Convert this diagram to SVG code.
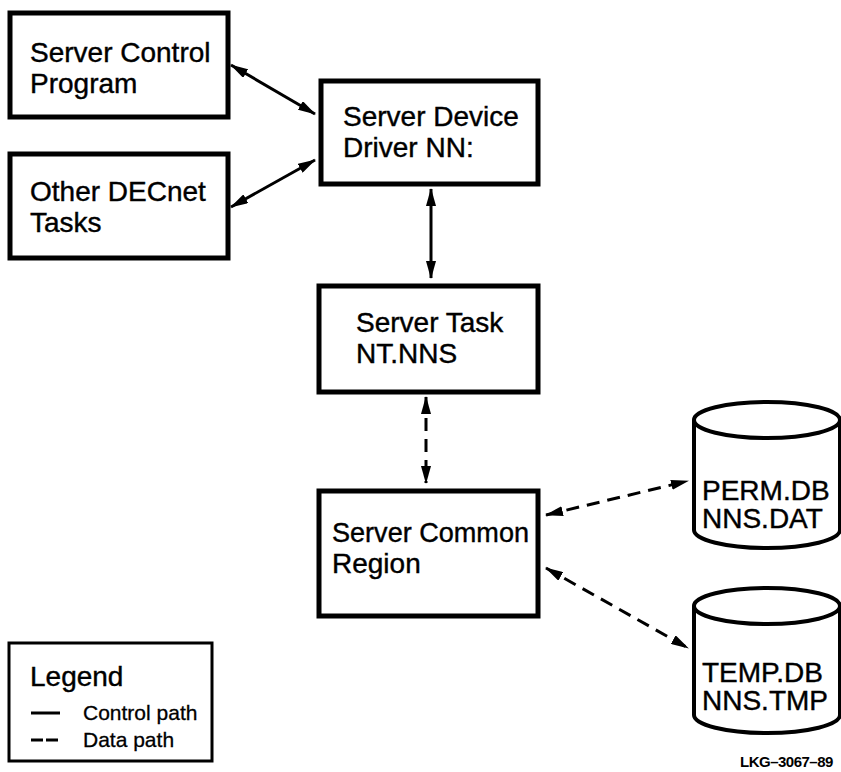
<svg xmlns="http://www.w3.org/2000/svg" width="841" height="772" viewBox="0 0 841 772">
<defs>
<marker id="ah" viewBox="0 0 18 10" refX="17" refY="5" markerWidth="18" markerHeight="10" markerUnits="userSpaceOnUse" orient="auto-start-reverse">
<path d="M0,0 L18,5 L0,10 z" fill="#000"/>
</marker>
</defs>
<style>
.box{fill:#fff;stroke:#000;stroke-width:5}
.cyl{fill:#fff;stroke:#000;stroke-width:4}
.t{font-family:"Liberation Sans",Arial,sans-serif;font-size:28px;fill:#000;stroke:#000;stroke-width:0.4}
.s{font-family:"Liberation Sans",Arial,sans-serif;font-size:21px;fill:#000;stroke:#000;stroke-width:0.3}
.c{fill:none;stroke:#000;stroke-width:3}
.d{stroke-dasharray:13 8}
</style>
<rect width="841" height="772" fill="#fff"/>
<g id="connectors">
<line class="c" x1="231" y1="65" x2="315" y2="114" marker-start="url(#ah)" marker-end="url(#ah)"/>
<line class="c" x1="231" y1="207" x2="315" y2="160" marker-start="url(#ah)" marker-end="url(#ah)"/>
<line class="c" x1="431" y1="189" x2="431" y2="278" marker-start="url(#ah)" marker-end="url(#ah)"/>
<line class="c d" x1="426" y1="397" x2="426" y2="483" marker-start="url(#ah)" marker-end="url(#ah)"/>
<line class="c d" x1="546" y1="515" x2="688" y2="481" marker-start="url(#ah)" marker-end="url(#ah)"/>
<line class="c d" x1="546" y1="568" x2="688" y2="648" marker-start="url(#ah)" marker-end="url(#ah)"/>
</g>
<g id="server-control-program">
<rect class="box" x="10" y="13" width="218" height="104"/>
<text class="t" x="30" y="62">Server Control</text>
<text class="t" x="30" y="93">Program</text>
</g>
<g id="other-decnet-tasks">
<rect class="box" x="10" y="154" width="218" height="104"/>
<text class="t" x="30" y="201">Other DECnet</text>
<text class="t" x="30" y="232">Tasks</text>
</g>
<g id="server-device-driver">
<rect class="box" x="321" y="81" width="217" height="103"/>
<text class="t" x="343" y="126">Server Device</text>
<text class="t" x="343" y="157">Driver NN:</text>
</g>
<g id="server-task">
<rect class="box" x="319" y="286" width="219" height="106"/>
<text class="t" x="356" y="332">Server Task</text>
<text class="t" x="356" y="363">NT.NNS</text>
</g>
<g id="server-common-region">
<rect class="box" x="319" y="491" width="219" height="125"/>
<text class="t" x="332" y="542" textLength="197" lengthAdjust="spacingAndGlyphs">Server Common</text>
<text class="t" x="332" y="573">Region</text>
</g>
<g id="perm-db">
<path class="cyl" d="M694,420 L694,530 A73,18 0 0 0 840,530 L840,420"/>
<ellipse class="cyl" cx="767" cy="420" rx="73" ry="18"/>
<text class="t" x="702" y="500">PERM.DB</text>
<text class="t" x="702" y="528">NNS.DAT</text>
</g>
<g id="temp-db">
<path class="cyl" d="M694,606 L694,715 A73,18 0 0 0 840,715 L840,606"/>
<ellipse class="cyl" cx="767" cy="606" rx="73" ry="18"/>
<text class="t" x="702" y="682">TEMP.DB</text>
<text class="t" x="702" y="710">NNS.TMP</text>
</g>
<g id="legend">
<rect x="9" y="643" width="203" height="118" fill="#fff" stroke="#000" stroke-width="3"/>
<text class="t" x="30" y="686">Legend</text>
<line x1="31" y1="713" x2="60" y2="713" stroke="#000" stroke-width="3"/>
<line x1="31" y1="740" x2="60" y2="740" stroke="#000" stroke-width="3" stroke-dasharray="12 3"/>
<text class="s" x="83" y="720">Control path</text>
<text class="s" x="83" y="747">Data path</text>
</g>
<text x="740" y="767" font-family="'Liberation Sans',Arial,sans-serif" font-size="15" font-weight="bold" letter-spacing="-0.5">LKG–3067–89</text>
</svg>
